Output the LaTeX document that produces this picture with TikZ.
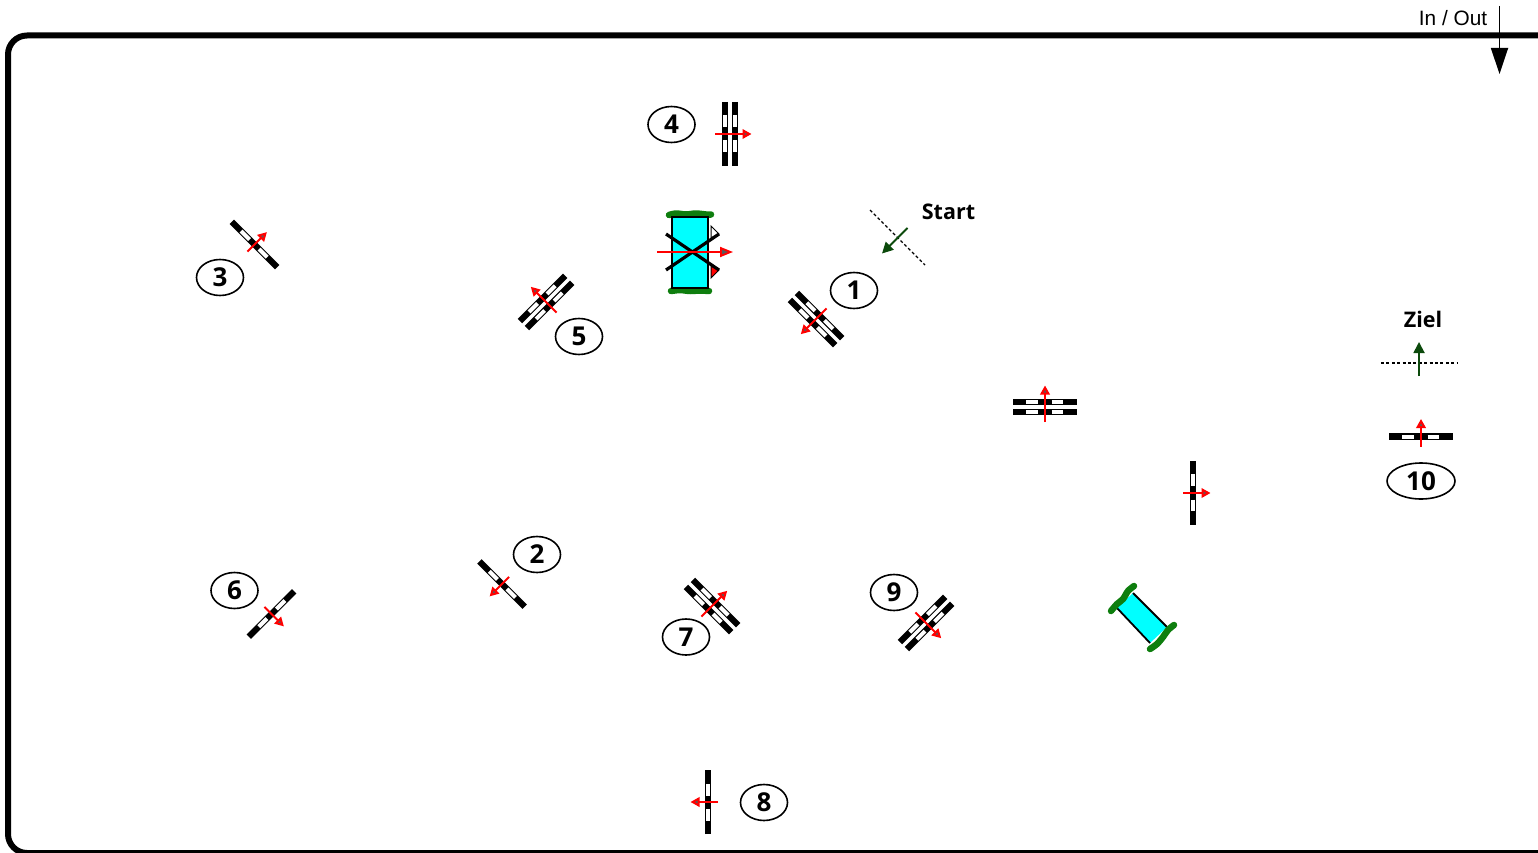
\documentclass[tikz,border=0pt]{standalone}
\usepackage{fontspec}
\setmainfont{Liberation Sans}
\newfontfamily\labelfont{Open Sans}
\usetikzlibrary{arrows.meta}
\usetikzlibrary{shapes.geometric}
\definecolor{hedge}{HTML}{0E7E0E}
\definecolor{water}{HTML}{00FFFF}
\definecolor{pathgreen}{HTML}{0C4A0C}
\tikzset{
  x=1pt,y=-1pt,
  barblack/.style={line width=6.2pt,black},
  barwhite/.style={line width=4pt,white},
  redarrow/.style={draw=red,line width=2pt,-{Triangle[length=9pt,width=9.5pt,fill=gray!70!black]}},
  greenarrow/.style={draw=pathgreen,line width=1.9pt,-{Triangle[length=11pt,width=11pt,fill=pathgreen]}},
  numlabel/.style={draw,line width=1.6pt,ellipse,minimum width=47pt,minimum height=36pt,inner sep=0pt,font=\labelfont\bfseries\fontsize{26}{26}\selectfont},
  toplabel/.style={font=\labelfont\bfseries\fontsize{21.5}{21.5}\selectfont,inner sep=0pt},
  dottedline/.style={line width=1.3pt,dash pattern=on 3pt off 2.4pt},
  shrub/.style={draw=hedge,line width=6.5pt,line cap=round,line join=round},
}
\newcommand{\barat}[1]{%
  \draw[barblack] (#1,-32) -- (#1,32);
  \draw[barwhite] (#1,-19) -- (#1,-7);
  \draw[barwhite] (#1,6.5) -- (#1,18);
}
\newcommand{\singlejump}[4]{%
  \begin{scope}[shift={(#2,#3)},rotate=#4]
    \barat{0}
    \coordinate (#1tail) at (-10,0);
    \coordinate (#1tip) at (17.5,0);
    \draw[redarrow] (#1tail) -- (#1tip);
  \end{scope}}
\newcommand{\doublejump}[4]{%
  \begin{scope}[shift={(#2,#3)},rotate=#4]
    \barat{-5}
    \barat{5}
    \coordinate (#1tail) at (-15,0);
    \coordinate (#1tip) at (21.5,0);
    \draw[redarrow] (#1tail) -- (#1tip);
  \end{scope}}
\begin{document}
\begin{tikzpicture}
\useasboundingbox (0,0) rectangle (1538,853);
\clip (0,0) rectangle (1538,853);
% arena
\coordinate (arenaTR) at (1545,35.5);
\coordinate (arenaTL) at (8,35.5);
\coordinate (arenaBL) at (8,853);
\coordinate (arenaBR) at (1545,853);
\draw[line width=6pt,rounded corners=19pt] (arenaTR) -- (arenaTL) -- (arenaBL) -- (arenaBR);
% entrance
\node[inner sep=0pt,font=\fontsize{20.8}{20.8}\selectfont] (inout) at (1453,18) {In / Out};
\coordinate (entryA) at (1499.5,6);
\coordinate (entryB) at (1499.5,74);
\draw[line width=1.7pt,-{Triangle[length=26pt,width=17pt,fill=black]}] (entryA) -- (entryB);
% jumps
\doublejump{jA}{816}{319}{225}
\singlejump{jB}{502}{584}{225}
\singlejump{jC}{254.5}{244.5}{45}
\doublejump{jD}{730}{134}{0}
\doublejump{jE}{546}{302}{135}
\singlejump{jF}{271.5}{614}{-45}
\doublejump{jG}{712}{606}{45}
\singlejump{jH}{708}{802}{180}
\doublejump{jI}{926}{623}{-45}
\singlejump{jJ}{1421}{436.5}{90}
\doublejump{jK}{1045}{407}{90}
\singlejump{jL}{1193}{493}{0}
% number labels
\node[numlabel] (n1) at (854,290.5) {1};
\node[numlabel] (n2) at (537,554.5) {2};
\node[numlabel] (n3) at (220,277.5) {3};
\node[numlabel] (n4) at (671.5,124.5) {4};
\node[numlabel] (n5) at (579,336.5) {5};
\node[numlabel] (n6) at (234.5,590.5) {6};
\node[numlabel] (n7) at (686,637) {7};
\node[numlabel] (n8) at (764,802.5) {8};
\node[numlabel] (n9) at (894,592.5) {9};
\node[numlabel,minimum width=68pt] (n10) at (1421,481) {10};
% water jump with cross
\draw[shrub] plot[smooth] coordinates {(669,215) (676,213.5) (686,214.5) (696,213.5) (706,214.5) (711,214.5)};
\draw[shrub] plot[smooth] coordinates {(671,291) (680,290) (690,291) (700,290.5) (709,291)};
\draw[fill=water,line width=1.8pt] (672,217) rectangle (708,288);
\draw[fill=white,line width=1pt] (711,226) -- (719,234) -- (711,238) -- cycle;
\draw[fill=red,line width=1pt] (711,266) -- (719,270) -- (711,278) -- cycle;
\draw[line width=3.2pt] (666,234) -- (719,270);
\draw[line width=3.2pt] (666,270) -- (719,234);
\coordinate (wxTail) at (657,252);
\coordinate (wxTip) at (733,252);
\draw[draw=red,line width=1.8pt,-{Triangle[length=13pt,width=10pt,fill=gray!70!black]}] (wxTail) -- (wxTip);
% rotated water jump
\fill[water] (1133,593) -- (1167,627) -- (1150,643) -- (1117,608) -- cycle;
\draw[line width=1.8pt] (1133,593) -- (1167,627);
\draw[line width=1.8pt] (1117,608) -- (1150,643);
\draw[shrub] plot[smooth] coordinates {(1111,611) (1117,604) (1123,599) (1128,591) (1134,586)};
\draw[shrub] plot[smooth] coordinates {(1150,649) (1157,644) (1163,637) (1168,630) (1174,625)};
% start
\coordinate (startA) at (870,210);
\coordinate (startB) at (925,265);
\draw[dottedline] (startA) -- (startB);
\coordinate (startTail) at (907.5,228);
\coordinate (startTip) at (882,253.5);
\draw[greenarrow] (startTail) -- (startTip);
\node[toplabel] (startlabel) at (948.5,212) {Start};
% finish
\coordinate (finA) at (1381,363);
\coordinate (finB) at (1458,363);
\draw[dottedline] (finA) -- (finB);
\coordinate (finTail) at (1419,376);
\coordinate (finTip) at (1419,342);
\draw[greenarrow] (finTail) -- (finTip);
\node[toplabel] (finlabel) at (1423,319) {Ziel};
\end{tikzpicture}
\end{document}
